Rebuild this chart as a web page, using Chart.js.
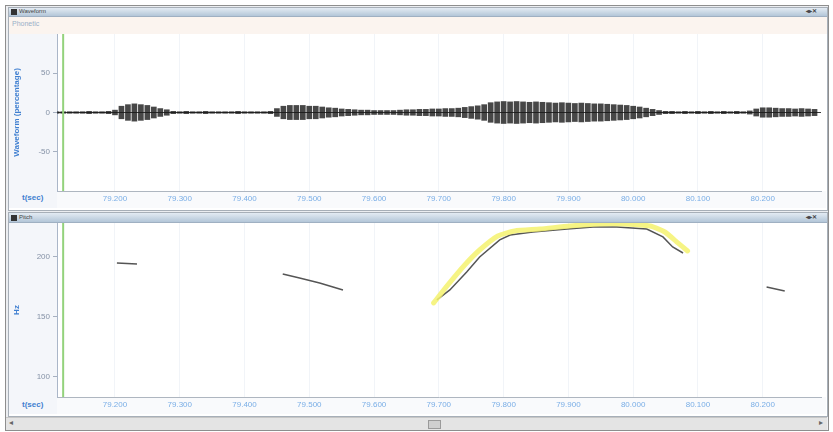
<!DOCTYPE html>
<html>
<head>
<meta charset="utf-8">
<script src="https://cdn.jsdelivr.net/npm/chart.js@4.4.1/dist/chart.umd.min.js"></script>
<style>
body { margin:0; width:833px; height:432px; background:#fff; overflow:hidden; position:relative;
       font-family:"Liberation Sans", Arial, sans-serif; }
.abs { position:absolute; }
.bar { background:linear-gradient(#e3ebf3, #b3c6d8); border-bottom:1px solid #9fb0c2; }
.ttl { font-size:6px; color:#444; line-height:9px; }
.unit { font-size:8px; font-weight:bold; color:#3f7fd0; }
</style>
</head>
<body>
<!-- window frame -->
<div class="abs" style="left:5px;top:5px;width:822px;height:424px;border:1px solid #8e8e8e;background:#eceef1"></div>

<!-- top panel chrome -->
<div class="abs" style="left:8px;top:7px;width:818px;height:202px;border:1px solid #a7afb8;background:#fff"></div>
<div class="abs bar" style="left:9px;top:8px;width:818px;height:8px"></div>
<div class="abs" style="left:11px;top:9px;width:6px;height:6px;background:#333"></div>
<div class="abs ttl" style="left:19px;top:7px">Waveform</div>
<div class="abs ttl" style="left:806px;top:7px;font-weight:bold">◂▸✕</div>
<div class="abs" style="left:9px;top:17px;width:818px;height:17px;background:#fbf4ef"></div>
<div class="abs" style="left:12px;top:20px;font-size:7px;color:#9ab0c8">Phonetic</div>
<div class="abs" style="left:9px;top:34px;width:48px;height:174px;background:#f4f6fa"></div>
<div class="abs" style="left:57px;top:191px;width:769px;height:17px;background:#f9fafc"></div>
<div class="abs unit" style="left:22px;top:193px">t(sec)</div>

<!-- bottom panel chrome -->
<div class="abs" style="left:8px;top:212px;width:818px;height:203px;border:1px solid #a7afb8;background:#fff"></div>
<div class="abs bar" style="left:9px;top:213px;width:818px;height:9px"></div>
<div class="abs" style="left:11px;top:215px;width:6px;height:6px;background:#333"></div>
<div class="abs ttl" style="left:19px;top:213px">Pitch</div>
<div class="abs ttl" style="left:806px;top:213px;font-weight:bold">◂▸✕</div>
<div class="abs" style="left:9px;top:223px;width:48px;height:191px;background:#f4f6fa"></div>
<div class="abs" style="left:57px;top:397px;width:769px;height:17px;background:#f9fafc"></div>
<div class="abs unit" style="left:22px;top:400px">t(sec)</div>

<!-- scrollbar -->
<div class="abs" style="left:6px;top:417px;width:821px;height:12px;background:#e4e4e4;border-top:1px solid #c6c6c6"></div>
<div class="abs" style="left:9px;top:418px;font-size:8px;color:#666">◂</div>
<div class="abs" style="left:819px;top:418px;font-size:8px;color:#666">▸</div>
<div class="abs" style="left:428px;top:420px;width:11px;height:7px;background:#cfcfcf;border:1px solid #9a9a9a"></div>

<div class="abs" style="left:8px;top:34px;width:817px;height:174px"><canvas id="waveChart"></canvas></div>
<div class="abs" style="left:8px;top:223px;width:817px;height:191px"><canvas id="pitchChart"></canvas></div>

<script>
// time axis (seconds)
var timeMin = 79.1105, timeMax = 80.29;
var timeTicks = [79.2, 79.3, 79.4, 79.5, 79.6, 79.7, 79.8, 79.9, 80.0, 80.1, 80.2];
var cursorStart = 79.12;

// waveform: peak amplitude (%) per 10 ms bin, starting at waveStart
var waveStart = 79.11, waveStep = 0.01;
var waveAmp = [
  1, 1, 1, 1, 1, 1.5, 1, 1, 1.5, 3, 8, 10, 11, 10, 9, 7, 5, 3.5, 1.5, 1,
  1.5, 1, 1, 1.5, 1, 1, 1, 1, 1.5, 1, 1, 1, 1, 1.5, 5, 8, 9, 9, 9, 8,
  8, 7, 6, 5.5, 4.5, 4, 3.5, 3, 3, 2.5, 2.5, 2.5, 2.5, 3, 3.5, 3.5, 4, 4, 4.5, 4.5,
  5, 5, 5.5, 6.5, 7.5, 8.5, 10, 12.5, 13.5, 14, 13.5, 14, 13.5, 13, 13.5, 13, 12.5, 12, 12.5, 12,
  11.5, 12, 11.5, 11, 11, 10.5, 10, 9.5, 9, 8, 7, 5.5, 4, 2.5, 1.5, 1.5, 1, 1.5, 1, 1.5,
  1, 1.5, 1, 1.5, 1, 1.5, 1, 2, 4.5, 6, 6, 5.5, 5, 5, 4.5, 5, 4.5, 4
];
var ampTicks = [-50, 0, 50];

// pitch contour (Hz), null = unvoiced gap
var pitchTime = [79.203, 79.234, null,
  79.459, 79.485, 79.516, 79.552, null,
  79.697, 79.717, 79.743, 79.763, 79.794, 79.810, 79.845, 79.898, 79.938, 79.975, 80.021, 80.046, 80.061, 80.077, null,
  80.206, 80.234];
var pitchHz = [195, 194.2, null,
  185.8, 182.5, 178.3, 172.5, null,
  164.2, 172.5, 187.5, 200, 214.2, 218.3, 220.8, 223.3, 225, 225, 223.3, 216.7, 208.3, 203.3, null,
  175, 171.7];
// highlighted (selected) stretch of the contour
var selTime = [79.692, 79.714, 79.740, 79.763, 79.791, 79.817, 79.856, 79.902, 79.948, 79.987, 80.026, 80.049, 80.069, 80.084];
var selHz = [161.7, 176.7, 193.3, 205.8, 217.5, 221.7, 223.3, 225.8, 227.5, 227.5, 225.8, 220.8, 211.7, 205];
var hzTicks = [100, 150, 200];

Chart.defaults.font.family = '"Liberation Sans", Arial, sans-serif';
Chart.defaults.font.size = 8;

var waveData = waveAmp.map(function (a, i) {
  return { x: waveStart + i * waveStep, y: [-a, a] };
});
var pitchData = pitchTime.map(function (t, i) {
  return t === null ? { x: NaN, y: null } : { x: t, y: pitchHz[i] };
});
var selData = selTime.map(function (t, i) { return { x: t, y: selHz[i] }; });

// green start cursor
var cursorPlugin = {
  id: 'cursor',
  afterDatasetsDraw: function (chart) {
    var x = chart.scales.x.getPixelForValue(cursorStart);
    var a = chart.chartArea, ctx = chart.ctx;
    ctx.save();
    ctx.strokeStyle = '#93d27c';
    ctx.lineWidth = 2;
    ctx.beginPath();
    ctx.moveTo(x, a.top);
    ctx.lineTo(x, a.bottom);
    ctx.stroke();
    ctx.restore();
  }
};

function timeAxis() {
  return {
    type: 'linear', min: timeMin, max: timeMax, offset: false,
    afterBuildTicks: function (s) { s.ticks = timeTicks.map(function (v) { return { value: v }; }); },
    afterFit: function (s) { s.height = 17; },
    ticks: { color: '#7aaee6', padding: 3, maxRotation: 0,
      callback: function (v) { return Number(v).toFixed(3); } },
    grid: { color: '#f1f4f8', drawTicks: false, offset: false },
    border: { color: '#aeb6c0' }
  };
}

function valueAxis(min, max, ticks, title, zeroLine) {
  return {
    min: min, max: max,
    afterBuildTicks: function (s) { s.ticks = ticks.map(function (v) { return { value: v }; }); },
    afterFit: function (s) { s.width = 49; s.paddingTop = 0; s.paddingBottom = 0; },
    ticks: { color: '#8592a6', padding: 3 },
    grid: {
      drawOnChartArea: zeroLine, tickLength: 4,
      color: function (c) {
        if (c.type === 'tick' && zeroLine && c.tick.value === 0) return '#3a3a3a';
        return zeroLine ? 'rgba(0,0,0,0)' : '#a6b0c0';
      },
      tickColor: '#a6b0c0'
    },
    border: { color: '#aab6c8' },
    title: { display: true, text: title, color: '#3f7fd0', font: { size: 8, weight: 'bold' } }
  };
}

new Chart(document.getElementById('waveChart'), {
  type: 'bar',
  data: {
    datasets: [{
      data: waveData,
      backgroundColor: 'rgba(25,25,25,0.8)',
      barThickness: 5,
      grouped: false
    }]
  },
  options: {
    responsive: true, maintainAspectRatio: false, animation: false,
    layout: { padding: { right: 4, top: 0, left: 0, bottom: 0 } },
    plugins: { legend: { display: false }, tooltip: { enabled: false } },
    scales: { x: timeAxis(), y: valueAxis(-100, 100, ampTicks, 'Waveform (percentage)', true) }
  },
  plugins: [cursorPlugin]
});

new Chart(document.getElementById('pitchChart'), {
  type: 'line',
  data: {
    datasets: [{
      data: selData,
      borderColor: 'rgba(244,242,110,0.85)',
      borderWidth: 5,
      pointRadius: 0,
      tension: 0.2,
      borderCapStyle: 'round'
    }, {
      data: pitchData,
      borderColor: '#555',
      borderWidth: 1.5,
      pointRadius: 0,
      spanGaps: false
    }]
  },
  options: {
    responsive: true, maintainAspectRatio: false, animation: false,
    layout: { padding: { right: 4, top: 0, left: 0, bottom: 0 } },
    plugins: { legend: { display: false }, tooltip: { enabled: false } },
    scales: { x: timeAxis(), y: valueAxis(83.3, 228.3, hzTicks, 'Hz', false) }
  },
  plugins: [cursorPlugin]
});
</script>
</body>
</html>
